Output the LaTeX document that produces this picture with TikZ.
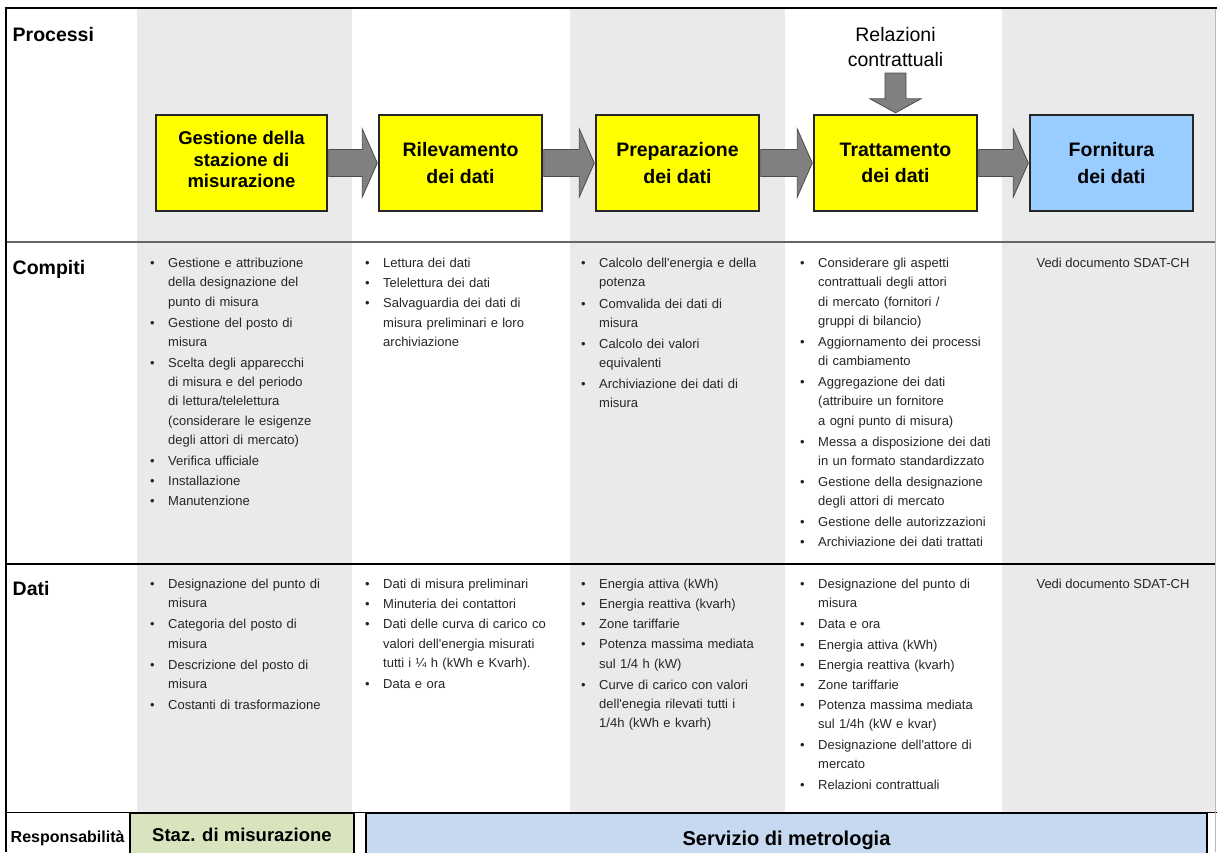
\documentclass[tikz,border=0pt]{standalone}
\usepackage{fontspec}
\newfontfamily\af{Liberation Sans}
\usetikzlibrary{calc}
\definecolor{colgray}{HTML}{EAEAEA}
\definecolor{procyellow}{HTML}{FFFF00}
\definecolor{fornblue}{HTML}{99CCFF}
\definecolor{arrowgray}{HTML}{808080}
\definecolor{stazgreen}{HTML}{D7E4BD}
\definecolor{servblue}{HTML}{C6D9F1}
\newcommand{\fs}[2]{\af\fontsize{#1}{#2}\selectfont}
\newcommand{\bi}[1]{\noindent\makebox[18pt][l]{\textbullet}\parbox[t]{250pt}{\strut#1\strut}\par\vspace{0.9pt}}
\newcommand{\harrow}[2]{\path[blockarr] let \p1=(#1.east), \p2=(#2.west) in
  (\x1+1pt,\y1+13.5pt) -- (\x2-16pt,\y1+13.5pt) -- (\x2-16pt,\y1+34pt) -- (\x2-1pt,\y1)
  -- (\x2-16pt,\y1-34pt) -- (\x2-16pt,\y1-13.5pt) -- (\x1+1pt,\y1-13.5pt) -- cycle;}
\tikzset{
  procbox/.style={draw=black!85, line width=1.4pt, fill=procyellow, minimum height=96pt,
    minimum width=163pt, align=center, font=\fs{19.5}{26.5}\bfseries, inner sep=2pt},
  blockarr/.style={fill=arrowgray, draw=black!70, line width=0.8pt},
  lbl/.style={inner sep=0pt, anchor=base west, font=\fs{19.5}{23}\bfseries},
  cell/.style={inner sep=0pt, anchor=north west, text width=270pt, align=left,
    font=\fs{13}{19.2}, text=black!85},
  seedoc/.style={inner sep=0pt, anchor=base, font=\fs{13}{19.2}, text=black!85},
  respbox/.style={draw=black, line width=2pt, anchor=north, align=center}
}
\begin{document}
\begin{tikzpicture}[x=1pt,y=-1pt]
\useasboundingbox (0,0) rectangle (1217,852);
\clip (0,0) rectangle (1217,852);
\fill[white] (0,0) rectangle (1217,852);
% column stripes
\fill[colgray] (137,8) rectangle (352,812);
\fill[colgray] (570,8) rectangle (785,812);
\fill[colgray] (1002,8) rectangle (1215.5,812);
% row separators and frame
\draw[black!60, line width=1.8pt] (6,242) -- (1215.5,242);
\draw[black, line width=1.1pt] (6,564) -- (1215.5,564);
\draw[black, line width=1pt] (6,812.5) -- (1217,812.5);
\draw[gray!55, line width=1pt] (1215.5,8) -- (1215.5,852);
\draw[black, line width=2.6pt] (4.7,8) -- (1217,8);
\draw[black, line width=2.6pt] (6,8) -- (6,852);
% row labels
\node[lbl] (lproc) at (12.5,41) {Processi};
\node[lbl] (lcomp) at (12.5,274) {Compiti};
\node[lbl] (ldati) at (12.5,595) {Dati};
\node[lbl, font=\fs{16}{19}\bfseries] (lresp) at (10.5,842) {Responsabilità};
% process boxes
\node[procbox, minimum width=171pt, font=\fs{18.5}{21.5}\bfseries, text depth=7pt] (b1) at (241.5,163) {Gestione della\\stazione di\\misurazione};
\node[procbox] (b2) at (460.5,163) {Rilevamento\\dei dati};
\node[procbox] (b3) at (677.5,163) {Preparazione\\dei dati};
\node[procbox] (b4) at (895.5,163) {Trattamento\\dei dati};
\node[procbox, fill=fornblue] (b5) at (1111.5,163) {Fornitura\\dei dati};
\node[anchor=south, inner xsep=0pt, inner ysep=6pt, outer sep=0pt, align=center, font=\fs{19.5}{25}] (rel) at (895.5,73) {Relazioni\\contrattuali};
% arrows
\harrow{b1}{b2}
\harrow{b2}{b3}
\harrow{b3}{b4}
\harrow{b4}{b5}
\path[blockarr] let \p1=(rel.south), \p2=(b4.north) in
  (\x1-10.5pt,\y1) -- (\x1-10.5pt,\y2+15.5pt) -- (\x1-25.5pt,\y2+15.5pt) -- (\x1,\y2+1.5pt)
  -- (\x1+25.5pt,\y2+15.5pt) -- (\x1+10.5pt,\y2+15.5pt) -- (\x1+10.5pt,\y1) -- cycle;
% Compiti
\node[cell] (c1) at (150,254.1) {%
\bi{Gestione e attribuzione\\della designazione del\\punto di misura}
\bi{Gestione del posto di\\misura}
\bi{Scelta degli apparecchi\\di misura e del periodo\\di lettura/telelettura\\(considerare le esigenze\\degli attori di mercato)}
\bi{Verifica ufficiale}
\bi{Installazione}
\bi{Manutenzione}};
\node[cell] (c2) at (365,254.1) {%
\bi{Lettura dei dati}
\bi{Telelettura dei dati}
\bi{Salvaguardia dei dati di\\misura preliminari e loro\\archiviazione}};
\node[cell] (c3) at (581,254.1) {%
\bi{Calcolo dell'energia e della\\potenza}
\bi{Comvalida dei dati di\\misura}
\bi{Calcolo dei valori\\equivalenti}
\bi{Archiviazione dei dati di\\misura}};
\node[cell] (c4) at (800,254.1) {%
\bi{Considerare gli aspetti\\contrattuali degli attori\\di mercato (fornitori /\\gruppi di bilancio)}
\bi{Aggiornamento dei processi\\di cambiamento}
\bi{Aggregazione dei dati\\(attribuire un fornitore\\a ogni punto di misura)}
\bi{Messa a disposizione dei dati\\in un formato standardizzato}
\bi{Gestione della designazione\\degli attori di mercato}
\bi{Gestione delle autorizzazioni}
\bi{Archiviazione dei dati trattati}};
\node[seedoc] (c5) at (1113,267.5) {Vedi documento SDAT-CH};
% Dati
\node[cell] (d1) at (150,575) {%
\bi{Designazione del punto di\\misura}
\bi{Categoria del posto di\\misura}
\bi{Descrizione del posto di\\misura}
\bi{Costanti di trasformazione}};
\node[cell] (d2) at (365,575) {%
\bi{Dati di misura preliminari}
\bi{Minuteria dei contattori}
\bi{Dati delle curva di carico co\\valori dell'energia misurati\\tutti i ¼ h (kWh e Kvarh).}
\bi{Data e ora}};
\node[cell] (d3) at (581,575) {%
\bi{Energia attiva (kWh)}
\bi{Energia reattiva (kvarh)}
\bi{Zone tariffarie}
\bi{Potenza massima mediata\\sul 1/4 h (kW)}
\bi{Curve di carico con valori\\dell'enegia rilevati tutti i\\1/4h (kWh e kvarh)}};
\node[cell] (d4) at (800,575) {%
\bi{Designazione del punto di\\misura}
\bi{Data e ora}
\bi{Energia attiva (kWh)}
\bi{Energia reattiva (kvarh)}
\bi{Zone tariffarie}
\bi{Potenza massima mediata\\sul 1/4h (kW e kvar)}
\bi{Designazione dell'attore di\\mercato}
\bi{Relazioni contrattuali}};
\node[seedoc] (d5) at (1113,588.5) {Vedi documento SDAT-CH};
% Responsabilita
\node[respbox, fill=stazgreen, minimum width=224pt, minimum height=44pt, font=\fs{18.5}{22}\bfseries] (staz) at (242,812) {Staz. di misurazione};
\node[respbox, fill=servblue, minimum width=841pt, minimum height=54pt, font=\fs{20}{24}\bfseries] (serv) at (786.5,812) {Servizio di metrologia};
\end{tikzpicture}
\end{document}
